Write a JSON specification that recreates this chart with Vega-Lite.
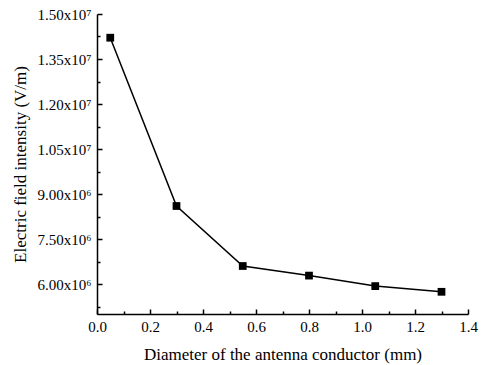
{
  "$schema": "https://vega.github.io/schema/vega-lite/v6.json",
  "width": 371,
  "height": 300,
  "autosize": "none",
  "padding": {"left": 97, "top": 14, "right": 14, "bottom": 51},
  "background": "white",
  "config": {
    "view": {"stroke": null},
    "font": "Liberation Serif",
    "axis": {
      "domainColor": "black",
      "domainWidth": 1.5,
      "tickColor": "black",
      "tickWidth": 1.5,
      "labelColor": "black",
      "titleColor": "black",
      "labelFont": "Liberation Serif",
      "titleFont": "Liberation Serif",
      "labelFontSize": 15,
      "titleFontSize": 17,
      "titleFontWeight": "normal",
      "grid": false
    }
  },
  "data": {
    "values": [
      {"d": 0.05, "e": 14210000},
      {"d": 0.3, "e": 8600000},
      {"d": 0.55, "e": 6600000},
      {"d": 0.8, "e": 6280000},
      {"d": 1.05, "e": 5930000},
      {"d": 1.3, "e": 5740000}
    ]
  },
  "encoding": {
    "x": {
      "field": "d",
      "type": "quantitative",
      "scale": {"domain": [0, 1.4], "nice": false, "zero": false},
      "axis": {
        "title": "Diameter of the antenna conductor (mm)",
        "values": [0, 0.1, 0.2, 0.3, 0.4, 0.5, 0.6, 0.7, 0.8, 0.9, 1.0, 1.1, 1.2, 1.3, 1.4],
        "labelExpr": "round(datum.value*10) % 2 == 0 ? format(datum.value, '.1f') : ''",
        "tickSize": {"condition": {"test": "round(datum.value*10) % 2 == 0", "value": -5}, "value": -3},
        "labelPadding": 10,
        "titlePadding": 12,
        "labelFlush": false
      }
    },
    "y": {
      "field": "e",
      "type": "quantitative",
      "scale": {"domain": [5000000, 15000000], "nice": false, "zero": false},
      "axis": {
        "title": "Electric field intensity (V/m)",
        "values": [5250000, 6000000, 6750000, 7500000, 8250000, 9000000, 9750000, 10500000, 11250000, 12000000, 12750000, 13500000, 14250000, 15000000],
        "labelExpr": "round((datum.value - 6000000)/750000) % 2 == 0 ? (datum.value >= 10000000 ? format(datum.value/10000000, '.2f') + 'x10⁷' : format(datum.value/1000000, '.2f') + 'x10⁶') : ''",
        "tickSize": {"condition": {"test": "round((datum.value - 6000000)/750000) % 2 == 0", "value": -5}, "value": -3},
        "labelPadding": 11,
        "titlePadding": 8,
        "labelFlush": false
      }
    }
  },
  "layer": [
    {"mark": {"type": "line", "color": "black", "strokeWidth": 1.5}},
    {"mark": {"type": "point", "shape": "square", "filled": true, "color": "black", "size": 60, "opacity": 1}}
  ]
}
